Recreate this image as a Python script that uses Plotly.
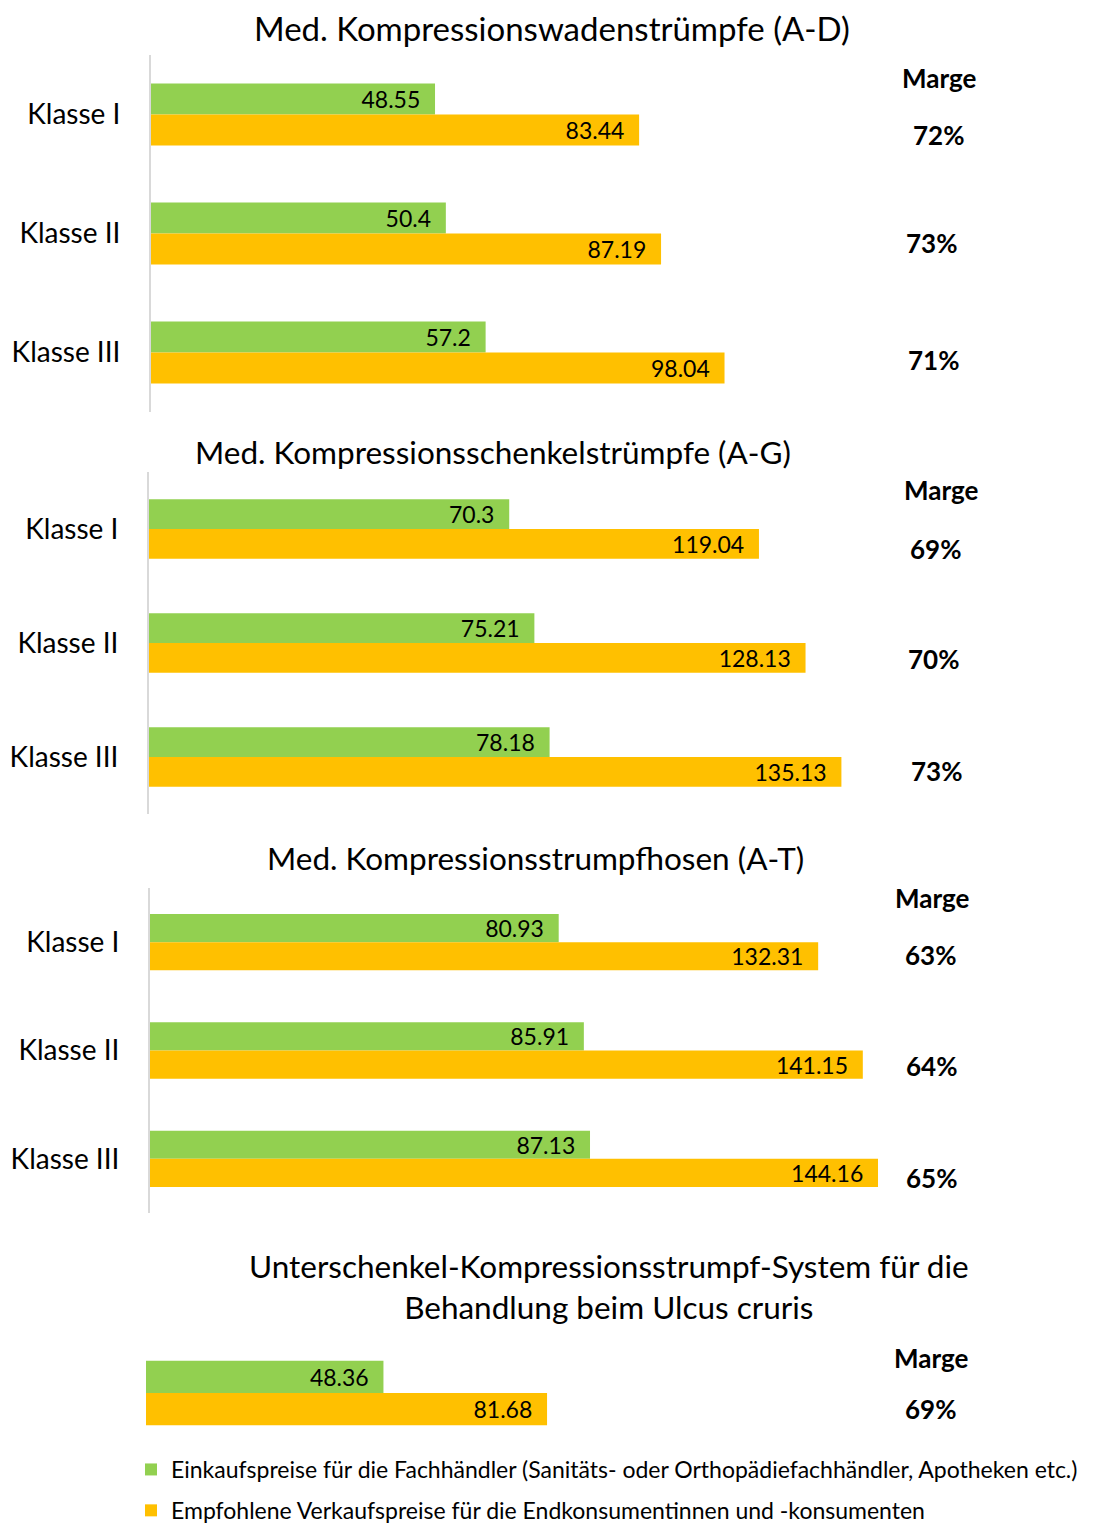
import plotly.graph_objects as go

# ---------------- data ----------------
titles = [
    "Med. Kompressionswadenstrümpfe (A-D)",
    "Med. Kompressionsschenkelstrümpfe (A-G)",
    "Med. Kompressionsstrumpfhosen (A-T)",
    "Unterschenkel-Kompressionsstrumpf-System für die<br>Behandlung beim Ulcus cruris",
]
categories = [
    ["Klasse I", "Klasse II", "Klasse III"],
    ["Klasse I", "Klasse II", "Klasse III"],
    ["Klasse I", "Klasse II", "Klasse III"],
    ["Ulcus cruris"],
]
einkauf = [
    [48.55, 50.4, 57.2],
    [70.3, 75.21, 78.18],
    [80.93, 85.91, 87.13],
    [48.36],
]
verkauf = [
    [83.44, 87.19, 98.04],
    [119.04, 128.13, 135.13],
    [132.31, 141.15, 144.16],
    [81.68],
]
marge = [
    [72, 73, 71],
    [69, 70, 73],
    [63, 64, 65],
    [69],
]
series_names = [
    "Einkaufspreise für die Fachhändler (Sanitäts- oder Orthopädiefachhändler, Apotheken etc.)",
    "Empfohlene Verkaufspreise für die Endkonsumentinnen und -konsumenten",
]

# ---------------- layout helpers ----------------
W, H = 1120, 1532
FONT = "Lato"
GREEN = "#92D050"
ORANGE = "#FFC000"


def px_x(x):
    return x / W


def px_y(y):
    return 1 - y / H


# panel geometry in page pixels: (axis left, px per unit, top, bottom)
panels = [
    (151, 5.85, 55, 412),
    (149, 5.124, 472, 814),
    (150, 5.05, 888, 1213),
    (146, 4.91, 1331, 1455),
]
right_px = 1100
title_pos = [(552, 28), (493, 452), (535, 858), (609, 1286)]
title_size = [33, 31.5, 31.5, 31.5]
marge_head = [(939, 78), (941, 490), (932, 898), (931, 1358)]
marge_val_pos = [
    [(938, 135), (931, 243), (933, 360)],
    [(935, 549), (933, 659), (936, 771)],
    [(930, 955), (931, 1066), (931, 1178)],
    [(930, 1409)],
]

fig = go.Figure()
annotations = []

for i in range(4):
    left, scale, top, bottom = panels[i]
    xa = "x" if i == 0 else f"x{i+1}"
    ya = "y" if i == 0 else f"y{i+1}"
    for vals, color, name in ((einkauf[i], GREEN, series_names[0]), (verkauf[i], ORANGE, series_names[1])):
        fig.add_trace(go.Bar(
            x=vals, y=categories[i], orientation="h",
            marker=dict(color=color, line=dict(width=0)),
            name=name, legendgroup=name, showlegend=(i == 0),
            text=vals, texttemplate="%{x}\u00a0\u00a0",
            textposition="inside", insidetextanchor="end",
            textfont=dict(family=FONT, size=23, color="#000000"),
            xaxis=xa, yaxis=ya, cliponaxis=False,
        ))
    xrange = (right_px - left) / scale
    n = len(categories[i])
    fig.layout[("xaxis" if i == 0 else f"xaxis{i+1}")] = dict(
        domain=[px_x(left), px_x(right_px)], range=[0, xrange],
        anchor=ya, showgrid=False, showticklabels=False, zeroline=False,
        showline=False, fixedrange=True,
    )
    fig.layout[("yaxis" if i == 0 else f"yaxis{i+1}")] = dict(
        domain=[px_y(bottom), px_y(top)], range=[n - 0.5, -0.5],
        anchor=xa, type="category",
        showline=(i < 3), linecolor="#d9d9d9", linewidth=2,
        showgrid=False, zeroline=False, ticks="",
        showticklabels=(i < 3), ticklabelstandoff=23,
        tickfont=dict(family=FONT, size=28, color="#000000"),
    )
    tx, ty = title_pos[i]
    annotations.append(dict(
        x=px_x(tx), y=px_y(ty), xref="paper", yref="paper",
        text=titles[i], showarrow=False, xanchor="center", yanchor="middle",
        font=dict(family=FONT, size=title_size[i], color="#000000"),
    ))
    mx, my = marge_head[i]
    annotations.append(dict(
        x=px_x(mx), y=px_y(my), xref="paper", yref="paper",
        text="<b>Marge</b>", showarrow=False, xanchor="center", yanchor="middle",
        font=dict(family=FONT, size=26, color="#000000"),
    ))
    for (vx, vy), m in zip(marge_val_pos[i], marge[i]):
        annotations.append(dict(
            x=px_x(vx), y=px_y(vy), xref="paper", yref="paper",
            text=f"<b>{m}%</b>", showarrow=False, xanchor="center", yanchor="middle",
            font=dict(family=FONT, size=26, color="#000000"),
        ))

fig.update_layout(
    width=W, height=H,
    margin=dict(l=0, r=0, t=0, b=0),
    paper_bgcolor="#ffffff", plot_bgcolor="#ffffff",
    barmode="group", bargap=0.48, bargroupgap=0,
    annotations=annotations,
    font=dict(family=FONT, color="#000000"),
    uniformtext=dict(mode="show", minsize=23),
    showlegend=True,
    legend=dict(
        x=px_x(131), y=0, xanchor="left", yanchor="bottom",
        orientation="v", traceorder="grouped", tracegroupgap=8,
        font=dict(family=FONT, size=23, color="#000000"),
        bgcolor="rgba(0,0,0,0)", borderwidth=0,
    ),
)

fig.write_html(
    "out.html",
    config={"displayModeBar": False},
    post_script="document.body.style.margin='0';",
)
